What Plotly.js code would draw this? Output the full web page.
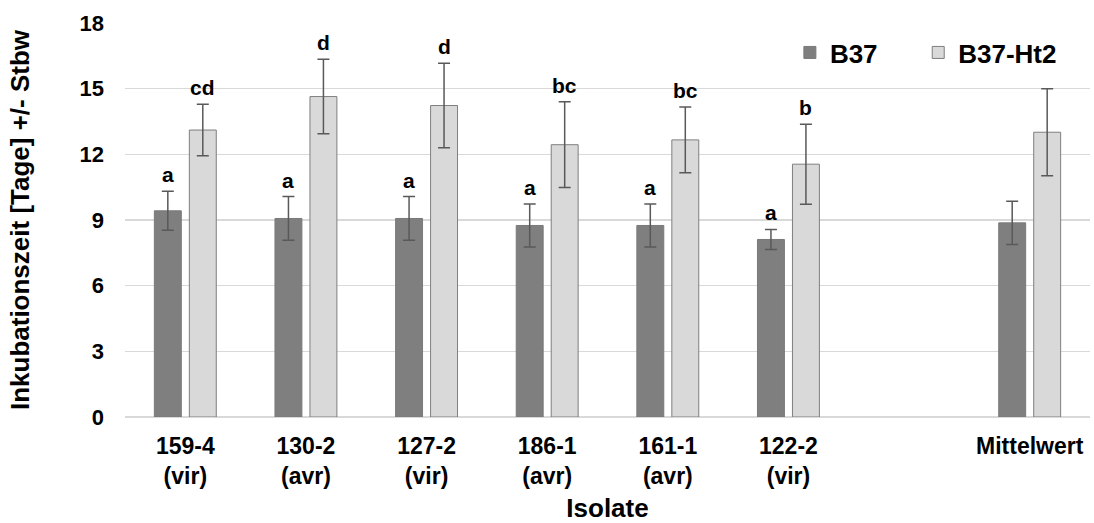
<!DOCTYPE html>
<html>
<head>
<meta charset="utf-8">
<script src="https://cdn.plot.ly/plotly-3.0.1.min.js"></script>
<style>html,body{margin:0;padding:0;background:#fff;}#chart{width:1094px;height:523px;}</style>
</head>
<body>
<div id="chart"></div>
<script>
// Data
const positions = [0, 1, 2, 3, 4, 5, 7];
const tickLabels = ["159-4<br>(vir)", "130-2<br>(avr)", "127-2<br>(vir)", "186-1<br>(avr)", "161-1<br>(avr)", "122-2<br>(vir)", "Mittelwert"];
const b37 = [9.42, 9.07, 9.07, 8.75, 8.75, 8.11, 8.87];
const b37Err = [0.89, 1.0, 1.0, 0.98, 0.98, 0.46, 0.99];
const ht2 = [13.11, 14.64, 14.23, 12.44, 12.66, 11.55, 13.01];
const ht2Err = [1.18, 1.7, 1.93, 1.96, 1.5, 1.83, 1.99];
const b37Letters = ["a", "a", "a", "a", "a", "a", ""];
const ht2Letters = ["cd", "d", "d", "bc", "bc", "b", ""];

const FONT = "Liberation Sans, Arial, sans-serif";
const errStyle = {type: 'data', visible: true, color: '#595959', thickness: 1.5, width: 6};

const traces = [
  {type: 'bar', name: 'B37', x: positions, y: b37, legend: 'legend',
   error_y: Object.assign({array: b37Err}, errStyle),
   marker: {color: '#7f7f7f', line: {color: '#7a7a7a', width: 1}}},
  {type: 'bar', name: 'B37-Ht2', x: positions, y: ht2, legend: 'legend2',
   error_y: Object.assign({array: ht2Err}, errStyle),
   marker: {color: '#d9d9d9', line: {color: '#7f7f7f', width: 1}}}
];

const annotations = [];
const slot = 17.5;
positions.forEach((p, i) => {
  if (b37Letters[i]) annotations.push({x: p, y: b37[i] + b37Err[i], text: b37Letters[i], showarrow: false,
    xshift: -slot, yanchor: 'bottom', yshift: 3, font: {family: FONT, size: 21, color: '#000', weight: 'bold'}});
  if (ht2Letters[i]) annotations.push({x: p, y: ht2[i] + ht2Err[i], text: ht2Letters[i], showarrow: false,
    xshift: slot, yanchor: 'bottom', yshift: 3, font: {family: FONT, size: 21, color: '#000', weight: 'bold'}});
});

const legendFont = {family: FONT, size: 26, color: '#000', weight: 'bold'};

const layout = {
  width: 1094, height: 523,
  margin: {l: 125, r: 4, t: 23, b: 106},
  paper_bgcolor: '#fff', plot_bgcolor: '#fff',
  font: {family: FONT, color: '#000'},
  barmode: 'group', bargap: 0.42, bargroupgap: 0.23,
  showlegend: true,
  legend: {orientation: 'h', x: 0.689, xanchor: 'left', y: 0.925, yanchor: 'middle',
    font: legendFont, bgcolor: 'rgba(0,0,0,0)'},
  legend2: {orientation: 'h', x: 0.822, xanchor: 'left', y: 0.925, yanchor: 'middle',
    font: legendFont, bgcolor: 'rgba(0,0,0,0)'},
  xaxis: {range: [-0.5, 7.5], tickmode: 'array', tickvals: positions, ticktext: tickLabels,
    showgrid: false, zeroline: false, showline: false, ticks: '', ticklabelstandoff: 13,
    tickfont: {family: FONT, size: 23, color: '#000', weight: 'bold'},
    title: {text: 'Isolate', font: {family: FONT, size: 26, color: '#000', weight: 'bold'}, standoff: 20}},
  yaxis: {range: [0, 18], tickmode: 'array', tickvals: [0, 3, 6, 9, 12, 15, 18],
    showgrid: true, gridcolor: '#d9d9d9', gridwidth: 1.5, zeroline: true, zerolinecolor: '#d9d9d9', zerolinewidth: 1.5,
    showline: false, ticks: '', ticklabelstandoff: 20,
    tickfont: {family: FONT, size: 22, color: '#000', weight: 'bold'},
    title: {text: 'Inkubationszeit [Tage] +/- Stbw', font: {family: FONT, size: 26, color: '#000', weight: 'bold'}, standoff: 42}},
  annotations: annotations
};

Plotly.newPlot('chart', traces, layout, {displayModeBar: false, staticPlot: true});
</script>
</body>
</html>
